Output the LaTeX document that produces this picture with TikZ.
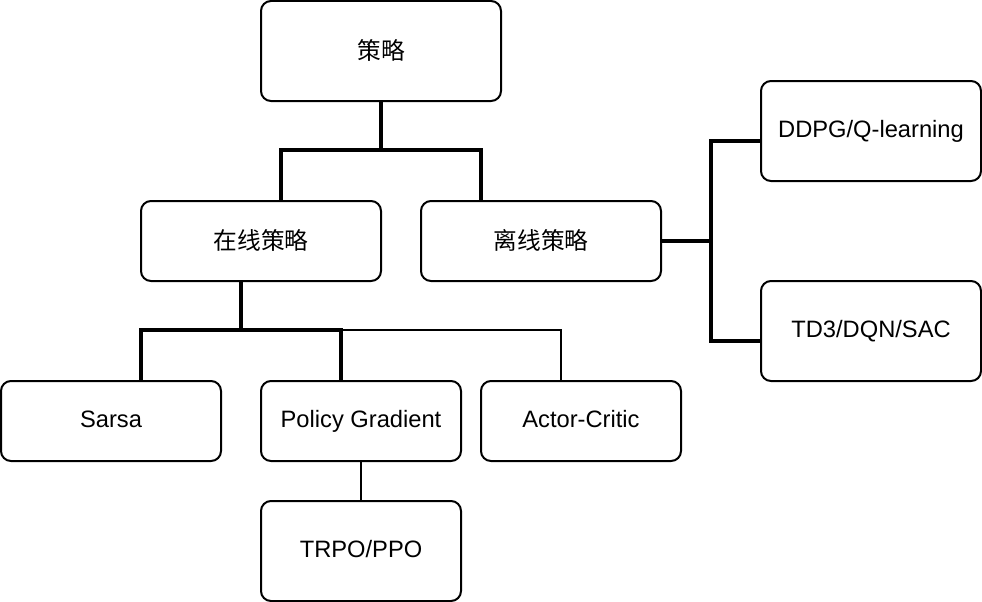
\documentclass[tikz,border=0pt]{standalone}
\usepackage{fontspec}
\setmainfont{Liberation Sans}
\newfontfamily\cjk{Noto Sans CJK SC}
\newcommand{\zhtext}[1]{\raisebox{-2pt}{\cjk #1}}
\begin{document}
\begin{tikzpicture}[x=1pt,y=-1pt,
  box/.style={draw=black,line width=2pt,rounded corners=10pt,fill=white,
    inner sep=0pt,align=center,text height=18pt,text depth=5pt,
    font=\fontsize{23.7}{28}\selectfont},
  thickline/.style={line width=4pt,line cap=rect},
  thinline/.style={line width=2pt}]
\useasboundingbox (0,0) rectangle (982,602);
\coordinate (j1) at (381,150);
\coordinate (j2) at (241,330);
\coordinate (j3) at (711,241);
\node[box,minimum width=240pt,minimum height=100pt] (top) at (381,51) {\zhtext{策略}};
\node[box,minimum width=240pt,minimum height=80pt] (online) at (261,241) {\zhtext{在线策略}};
\node[box,minimum width=240pt,minimum height=80pt] (offline) at (541,241) {\zhtext{离线策略}};
\node[box,minimum width=220pt,minimum height=100pt] (ddpg) at (871,131) {DDPG/Q-learning};
\node[box,minimum width=220pt,minimum height=100pt] (td3) at (871,331) {TD3/DQN/SAC};
\node[box,minimum width=220pt,minimum height=80pt] (sarsa) at (111,421) {Sarsa};
\node[box,minimum width=200pt,minimum height=80pt] (pg) at (361,421) {Policy Gradient};
\node[box,minimum width=200pt,minimum height=80pt] (ac) at (581,421) {Actor-Critic};
\node[box,minimum width=200pt,minimum height=100pt] (trpo) at (361,551) {TRPO/PPO};
\draw[thinline] (j2) -| ([xshift=-20pt]ac.north);
\draw[thickline] (top.south) -- (j1) -| ([xshift=20pt]online.north);
\draw[thickline] (j1) -| ([xshift=-60pt]offline.north);
\draw[thickline] ([xshift=-20pt]online.south) -- (j2) -| ([xshift=30pt]sarsa.north);
\draw[thickline] (j2) -| ([xshift=-20pt]pg.north);
\draw[thickline] (offline.east) -- (j3) |- ([yshift=-10pt]ddpg.west);
\draw[thickline] (j3) |- ([yshift=-10pt]td3.west);
\draw[thinline] (pg.south) -- (trpo.north);
\end{tikzpicture}
\end{document}
